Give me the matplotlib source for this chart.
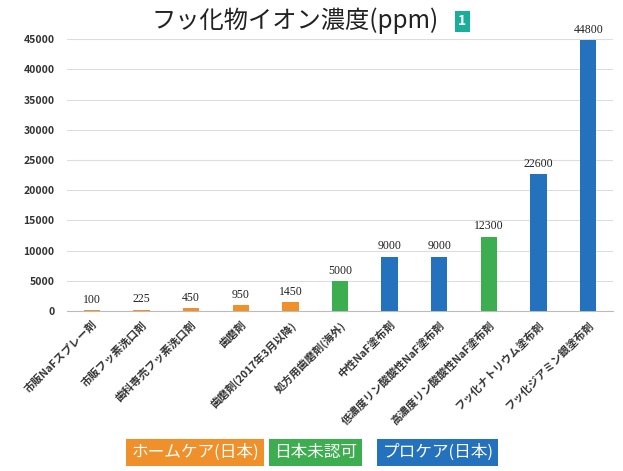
import matplotlib
matplotlib.use("Agg")
import matplotlib.pyplot as plt

plt.rcParams['font.family'] = ['Noto Sans CJK JP', 'DejaVu Sans']

categories = [
    "市販NaFスプレー剤", "市販フッ素洗口剤", "歯科専売フッ素洗口剤", "歯磨剤",
    "歯磨剤(2017年3月以降)", "処方用歯磨剤(海外)", "中性NaF塗布剤",
    "低濃度リン酸酸性NaF塗布剤", "高濃度リン酸酸性NaF塗布剤",
    "フッ化ナトリウム塗布剤", "フッ化ジアミン銀塗布剤",
]
values = [100, 225, 450, 950, 1450, 5000, 9000, 9000, 12300, 22600, 44800]
groups = ["home", "home", "home", "home", "home", "overseas",
          "pro", "pro", "overseas", "pro", "pro"]

colors = {"home": "#F0902A", "overseas": "#3DAE4F", "pro": "#2471BE"}
legend_labels = {"home": "ホームケア(日本)", "overseas": "日本未認可", "pro": "プロケア(日本)"}
yticks = list(range(0, 45001, 5000))

fig = plt.figure(figsize=(6.23, 4.71), dpi=100)
ax = fig.add_axes([0.1075, 0.3397, 0.8765, 0.5773])

x = range(len(categories))
ax.bar(x, values, width=0.33, color=[colors[g] for g in groups], zorder=3)
for i, v in enumerate(values):
    ax.text(i, v + 700, str(v), ha="center", va="bottom", fontsize=8.5,
            family=["Liberation Serif", "DejaVu Serif"], color="#222222")

ax.set_xlim(-0.5, len(categories) - 0.5)
ax.set_ylim(0, 45000)
ax.set_yticks(yticks)
ax.set_yticklabels([str(t) for t in yticks], fontsize=7.5, fontweight="bold", color="#333333")
ax.yaxis.grid(True, color="#DDDDDD", linewidth=0.8, zorder=0)
ax.tick_params(axis="y", length=0, pad=9)
ax.tick_params(axis="x", length=0, pad=6)
ax.set_xticks(list(x))
ax.set_xticklabels(categories, rotation=45, ha="right", rotation_mode="anchor",
                   fontsize=7.8, fontweight="bold", color="#333333")
for s in ["top", "right", "left"]:
    ax.spines[s].set_visible(False)
ax.spines["bottom"].set_color("#BBBBBB")

fig.text(0.474, 0.955, "フッ化物イオン濃度(ppm)", ha="center", va="center", fontsize=17.5, color="#222222")
fig.text(0.742, 0.955, "1", ha="center", va="center", fontsize=10, fontweight="bold", color="white",
         bbox=dict(boxstyle="square,pad=0.25", facecolor="#1AAE9A", edgecolor="none"))

legend_x = [0.313, 0.507, 0.703]
for gx, g in zip(legend_x, ["home", "overseas", "pro"]):
    fig.text(gx, 0.04, legend_labels[g], ha="center", va="center", fontsize=12, color="white",
             bbox=dict(boxstyle="square,pad=0.3", facecolor=colors[g], edgecolor="none"))

fig.savefig("out.png", dpi=100)
